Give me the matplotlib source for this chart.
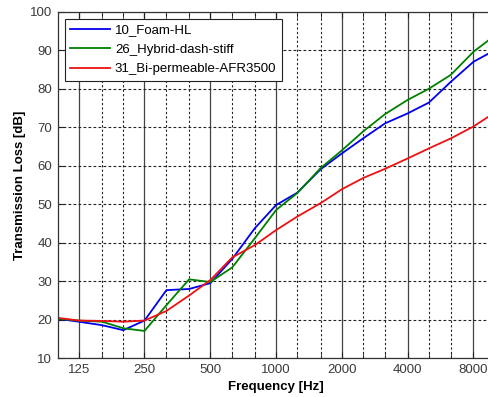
import matplotlib
matplotlib.use("Agg")
import matplotlib.pyplot as plt
from matplotlib.ticker import FixedLocator, NullFormatter

plt.rcParams['font.family'] = ['Liberation Sans', 'DejaVu Sans']

# third-octave band centre frequencies
freq = [100, 125, 160, 200, 250, 315, 400, 500, 630, 800, 1000,
        1250, 1600, 2000, 2500, 3150, 4000, 5000, 6300, 8000, 10000]

foam_hl = [20.3, 19.5, 18.6, 17.3, 19.8, 27.7, 28.0, 29.5, 35.8, 43.8, 49.8,
           53.0, 59.1, 63.2, 67.1, 71.0, 73.6, 76.4, 81.8, 87.0, 90.0]
hybrid_dash = [20.3, 19.8, 19.5, 17.8, 17.1, 23.8, 30.5, 29.8, 33.6, 41.2, 48.5,
               52.9, 59.4, 64.0, 68.9, 73.4, 77.1, 80.0, 83.6, 89.6, 93.8]
bi_perm = [20.5, 19.8, 19.7, 19.5, 19.8, 22.3, 26.3, 30.3, 36.2, 39.4, 43.3,
           46.8, 50.3, 53.9, 56.8, 59.2, 61.9, 64.5, 67.1, 70.2, 73.8]

labels = ['10_Foam-HL', '26_Hybrid-dash-stiff', '31_Bi-permeable-AFR3500']

octave_ticks = [125, 250, 500, 1000, 2000, 4000, 8000]
third_ticks = [160, 200, 315, 400, 630, 800, 1250, 1600, 2500, 3150, 5000, 6300]

fig = plt.figure(figsize=(4.89, 3.97), dpi=100)
ax = fig.add_axes([0.1176, 0.0975, 0.894, 0.873])

ax.plot(freq, foam_hl, color='#0000ee', lw=1.3, label=labels[0])
ax.plot(freq, hybrid_dash, color='#008000', lw=1.3, label=labels[1])
ax.plot(freq, bi_perm, color='#ee1111', lw=1.3, label=labels[2])

ax.set_xscale('log')
ax.set_xlim(100, 10000)
ax.set_ylim(10, 100)
ax.xaxis.set_major_locator(FixedLocator(octave_ticks))
ax.set_xticklabels([str(t) for t in octave_ticks])
ax.xaxis.set_minor_locator(FixedLocator(third_ticks))
ax.xaxis.set_minor_formatter(NullFormatter())
ax.set_yticks(range(10, 101, 10))

ax.grid(True, which='major', axis='x', color='#444444', ls='-', lw=0.9)
ax.grid(True, which='minor', axis='x', color='#222222', ls=(0, (2, 2)), lw=0.8)
ax.grid(True, which='major', axis='y', color='#222222', ls=(0, (2.5, 2)), lw=0.8)
ax.set_axisbelow(True)

ax.tick_params(which='both', direction='in', top=True, right=True,
               labelsize=9.5, labelcolor='#3a3a3a', color='#222222')
ax.tick_params(which='major', length=4, pad=4)
ax.tick_params(which='minor', length=4)
for s in ax.spines.values():
    s.set_color('#333333')
    s.set_linewidth(0.9)

ax.set_xlabel('Frequency [Hz]', fontsize=9.5, fontweight='bold', labelpad=4)
ax.set_ylabel('Transmission Loss [dB]', fontsize=9.5, fontweight='bold', labelpad=3)

leg = ax.legend(loc='upper left', fontsize=9.5, fancybox=False, framealpha=1,
                edgecolor='#222222', handlelength=3.0, handletextpad=0.4,
                borderaxespad=0.55, labelspacing=0.55, borderpad=0.4)
leg.get_frame().set_linewidth(0.8)

fig.savefig('out.png', dpi=100)
